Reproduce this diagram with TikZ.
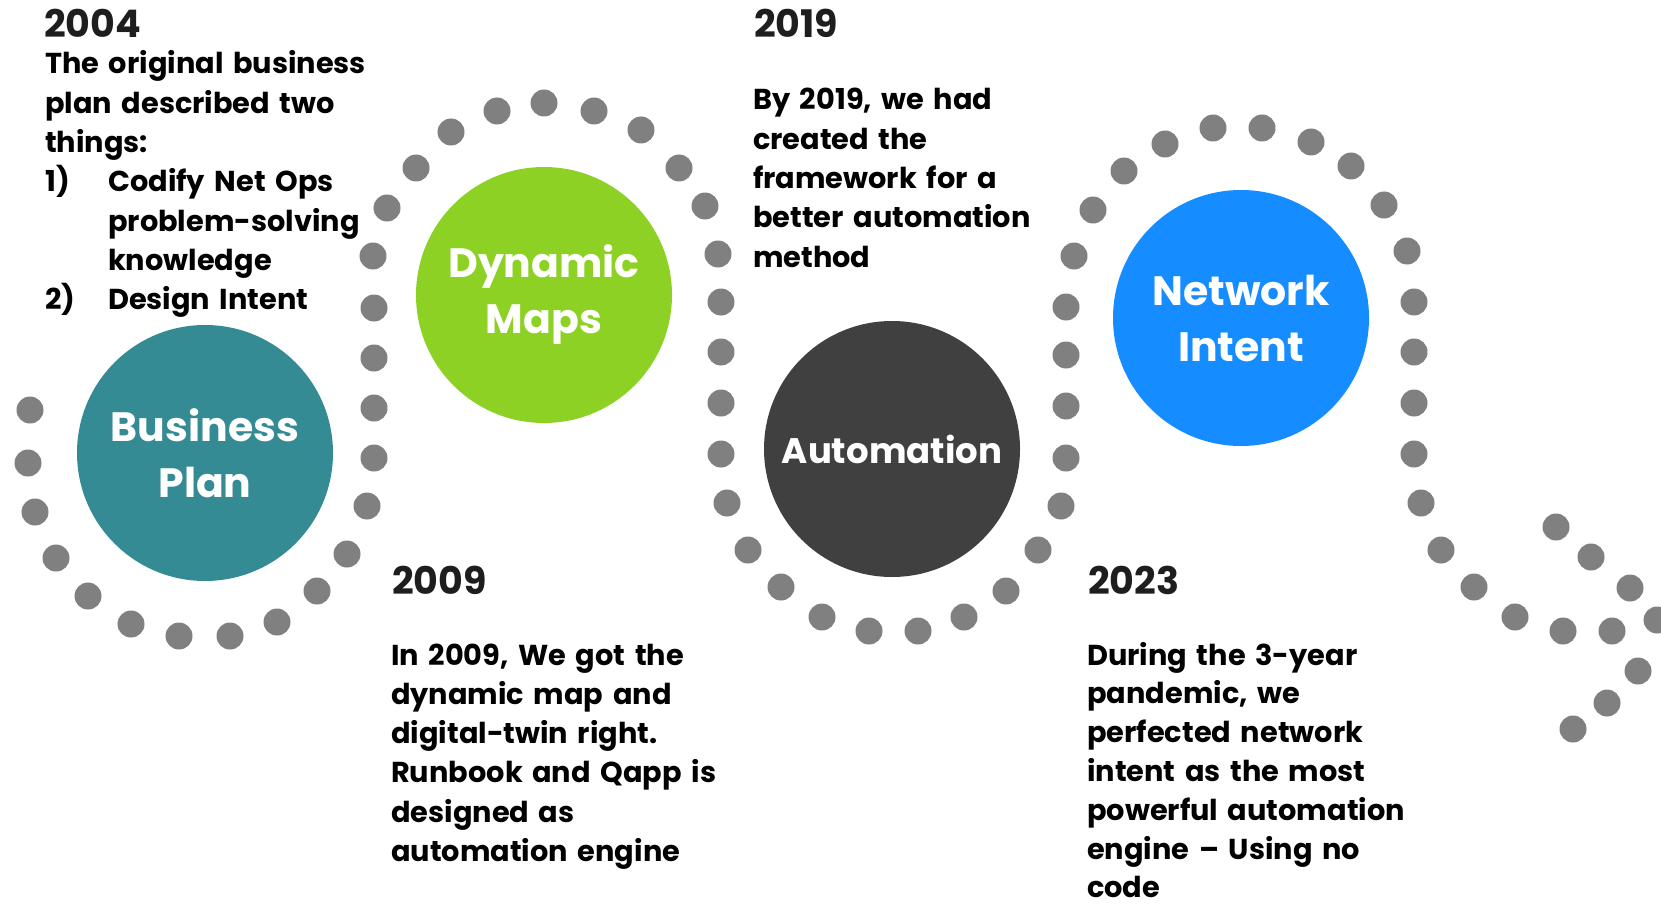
\documentclass[tikz,border=0pt]{standalone}
\usepackage{fontspec}
\setmainfont{Poppins}
\definecolor{dotgray}{RGB}{128,128,128}
\definecolor{planteal}{RGB}{52,139,148}
\definecolor{mapgreen}{RGB}{140,209,36}
\definecolor{autodark}{RGB}{64,64,64}
\definecolor{intentblue}{RGB}{21,140,255}
\definecolor{yearink}{RGB}{30,30,30}

\begin{document}
\begin{tikzpicture}[x=1pt,y=-1pt,
  dot/.style={fill=dotgray},
  bubble/.style={circle,minimum size=256pt,inner sep=0pt,text=white,align=center,
    font=\bfseries\fontsize{41}{56}\selectfont},
  year/.style={anchor=base west,inner sep=0pt,text=yearink,
    font=\bfseries\fontsize{38}{40}\selectfont},
  story/.style={anchor=base west,inner sep=0pt,text width=380pt,align=left,
    font=\bfseries\fontsize{28.8}{39.3}\selectfont}]
  \useasboundingbox (0,0) rectangle (1661,904);
  \clip (0,0) rectangle (1661,904);
  % the dotted trail
  \foreach \p in {(30,410),(28,463),(35,512),(56,558),(88,596),(131,624),(179,636),
    (230,636),(277,622),(317,591),(347,554),(367,506),(374,458),(374,408),(374,358),
    (374,308),(373,256),(387,208),(416,168),(451,132),(497,111),(544,103),(594,111),
    (641,130),(679,168),(705,206),(718,254),(721,302),(721,352),(721,403),(721,454),
    (727,503),(748,550),(781,587),(822,617),(869,631),(918,631),(964,617),(1006,591),
    (1038,550),(1061,506),(1066,458),(1066,406),(1066,355),(1066,307),(1074,256),
    (1093,210),(1124,171),(1165,144),(1213,128),(1262,128),(1311,142),(1351,166),
    (1384,205),(1407,251),(1414,302),(1414,352),(1414,403),(1414,454),(1421,503),
    (1441,550),(1474,587),(1515,617),(1563,631),(1612,631),(1657,620),
    (1556,527),(1591,557),(1630,588),(1638,671),(1607,703),(1573,729)}
    \fill[dot] \p circle (13.5pt);
  % milestones
  \node[bubble,fill=planteal] (plan) at (205,453) {Business\\Plan};
  \node[bubble,fill=mapgreen] (maps) at (544,295) {Dynamic\\Maps};
  \node[bubble,fill=autodark,font=\bfseries\fontsize{35.5}{40}\selectfont] (auto)
    at (892,449) {Automation};
  \node[bubble,fill=intentblue] (intent) at (1241,318) {Network\\Intent};
  % years and stories
  \node[year] (y2004) at (44,38) {2004};
  \node[story] (s2004) at (45,74) {The original business\\plan described two\\things:\\
    \makebox[63pt][l]{1)}Codify Net Ops\\\hspace*{63pt}problem-solving\\
    \hspace*{63pt}knowledge\\\makebox[63pt][l]{2)}Design Intent};
  \node[year] (y2009) at (392,594) {2009};
  \node[story] (s2009) at (391,665) {In 2009, We got the\\dynamic map and\\
    digital-twin right.\\Runbook and Qapp is\\designed as\\automation engine};
  \node[year] (y2019) at (754,38) {2019};
  \node[story] (s2019) at (753,110) {By 2019, we had\\created the\\framework for a\\
    better automation\\method};
  \node[year] (y2023) at (1088,594) {2023};
  \node[story,font=\bfseries\fontsize{28.8}{38.8}\selectfont] (s2023) at (1087,665)
    {During the 3-year\\pandemic, we\\perfected network\\intent as the most\\
    powerful automation\\engine -- Using no\\code};
\end{tikzpicture}
\end{document}
